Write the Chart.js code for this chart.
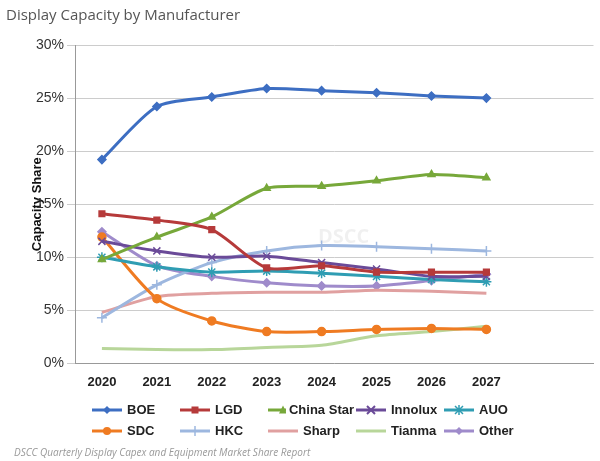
<!DOCTYPE html>
<html><head><meta charset="utf-8">
<script src="https://cdn.jsdelivr.net/npm/chart.js@4/dist/chart.umd.min.js"></script>
<style>body{margin:0;background:#fff;}#w{width:600px;height:461px;position:relative;}
#t{position:absolute;left:6px;top:4px;font:15px "Open Sans",sans-serif;color:#555;}
#f{position:absolute;left:14px;top:445px;font:italic 10px "Open Sans",sans-serif;color:#999;}
#c{position:absolute;left:0;top:0;}
#lg{position:absolute;left:90px;top:402px;width:440px;display:grid;grid-template-columns:repeat(5,88px);row-gap:6px;font:bold 13px Arial,sans-serif;color:#222;}
#lg div{display:flex;align-items:center;white-space:nowrap;}#lg svg{margin-right:3px;}</style></head>
<body><div id="w"><canvas id="c" width="600" height="461"></canvas>
<div id="t">Display Capacity by Manufacturer</div><div id="lg"></div>
<div id="f">DSCC Quarterly Display Capex and Equipment Market Share Report</div></div>
<script>
const years=[2020,2021,2022,2023,2024,2025,2026,2027];
const yTicks=[0,5,10,15,20,25,30];
const BOE=[19.2,24.2,25.1,25.9,25.7,25.5,25.2,25.0];
const LGD=[14.1,13.5,12.6,9.0,9.2,8.6,8.6,8.6];
const ChinaStar=[9.8,11.9,13.8,16.5,16.7,17.2,17.8,17.5];
const Innolux=[11.5,10.6,10.0,10.1,9.5,8.9,8.2,8.2];
const AUO=[10.0,9.1,8.6,8.7,8.5,8.2,7.9,7.7];
const SDC=[11.9,6.1,4.0,3.0,3.0,3.2,3.3,3.2];
const HKC=[4.3,7.4,9.5,10.6,11.1,11.0,10.8,10.6];
const Sharp=[4.8,6.3,6.6,6.7,6.7,6.9,6.8,6.6];
const Tianma=[1.4,1.3,1.3,1.5,1.7,2.6,3.0,3.5];
const Other=[12.4,9.2,8.2,7.6,7.3,7.3,7.8,8.4];
function ds(label,data,color,style,r){return{label,data:data.map((v,i)=>({x:years[i],y:v})),borderColor:color,backgroundColor:color,pointStyle:style||'circle',pointRadius:r===undefined?4:r,pointBorderWidth:1.5,borderWidth:3,tension:0.25};}
const datasets=[
ds('BOE',BOE,'#3d6ec2','rectRot'),
ds('LGD',LGD,'#b63a3a','rect'),
ds('China Star',ChinaStar,'#77a83a','triangle'),
ds('Innolux',Innolux,'#6a4a98','crossRot',5),
ds('AUO',AUO,'#2f9db3','star',5),
ds('SDC',SDC,'#ef7b22','circle'),
ds('HKC',HKC,'#9db7df','cross',5),
ds('Sharp',Sharp,'#e0a0a0','line',0),
ds('Tianma',Tianma,'#b8d69a','line',0),
ds('Other',Other,'#9f8bcb','rectRot')];
const mk={rectRot:'<path d="M17 2 L21 6 L17 10 L13 6Z" fill="C"/>',rect:'<rect x="13.5" y="2.5" width="7" height="7" fill="C"/>',triangle:'<path d="M17 1.5 L21 9.5 L13 9.5Z" fill="C"/>',crossRot:'<path d="M13 2 L21 10 M21 2 L13 10" stroke="C" stroke-width="2"/>',star:'<path d="M13 2 L21 10 M21 2 L13 10 M17 1 L17 11" stroke="C" stroke-width="1.5"/>',circle:'<circle cx="17" cy="6" r="4" fill="C"/>',cross:'<path d="M17 1 L17 11" stroke="C" stroke-width="1.5"/>',line:''};
document.getElementById('lg').innerHTML=datasets.map(d=>'<div><svg width="34" height="12"><line x1="2" y1="6" x2="32" y2="6" stroke="'+d.borderColor+'" stroke-width="3"/>'+(d.pointRadius?mk[d.pointStyle]:'').replace(/C/g,d.borderColor)+'</svg>'+d.label+'</div>').join('');
const wm={id:'wm',beforeDatasetsDraw(c){const x=c.ctx;x.save();x.font='bold 20px "Open Sans"';x.fillStyle='rgba(0,0,0,0.06)';x.fillText('DSCC',318,243);x.restore();}};
new Chart(document.getElementById('c'),{type:'line',data:{datasets},plugins:[wm],
options:{responsive:false,animation:false,
layout:{padding:{top:45,left:30,right:2,bottom:68}},
plugins:{legend:{display:false},tooltip:{enabled:false}},
scales:{x:{type:'linear',min:2019.51,max:2028.95,afterBuildTicks(a){a.ticks=years.map(v=>({value:v}));},grid:{display:false},border:{color:'#999'},ticks:{callback:v=>String(v),font:{family:'Arial',size:13,weight:'bold'},color:'#222'}},
y:{min:0,max:30,afterFit(s){s.width=45;},afterBuildTicks(a){a.ticks=yTicks.map(v=>({value:v}));},grid:{color:'#ccc'},border:{color:'#999'},title:{display:true,text:'Capacity Share',padding:0,font:{family:'Arial',size:13,weight:'bold'},color:'#111'},ticks:{callback:v=>v+'%',font:{family:'Arial',size:14},color:'#333'}}}}});
</script></body></html>
